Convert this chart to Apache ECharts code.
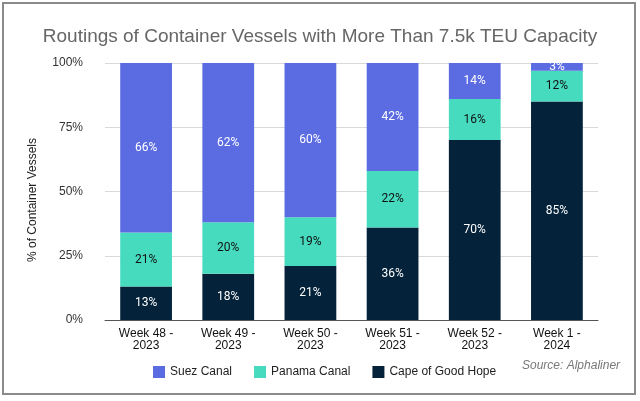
<!DOCTYPE html>
<html><head><meta charset="utf-8">
<script src="https://cdn.jsdelivr.net/npm/echarts@6/dist/echarts.min.js"></script>
<style>html,body{margin:0;padding:0;background:#fff}#c{width:640px;height:401px}</style>
</head><body><div id="c"></div>
<script>
const categories = ['Week 48 -\n2023','Week 49 -\n2023','Week 50 -\n2023','Week 51 -\n2023','Week 52 -\n2023','Week 1 -\n2024'];
const capeOfGoodHope = [13, 18, 21, 36, 70, 85];
const panamaCanal = [21, 20, 19, 22, 16, 12];
const suezCanal = [66, 62, 60, 42, 14, 3];
const yTicks = [0, 25, 50, 75, 100];

const chart = echarts.init(document.getElementById('c'), null, {renderer:'canvas'});
const font = 'Roboto, Arial, sans-serif';
const afont = '"Liberation Sans", Arial, sans-serif';
function lbl(color){return {show:true, position:'inside', color:color, fontSize:12, fontFamily:font, formatter: p => p.value + '%'};}
chart.setOption({
  animation:false,
  graphic:[
    {type:'rect', shape:{x:3,y:3,width:632,height:391}, style:{fill:'none', stroke:'#8a8a8a', lineWidth:2}, silent:true},
    {type:'text', left:522, top:360, style:{text:'Source: Alphaliner', fill:'#777', font:'italic 12px "Liberation Sans", Arial, sans-serif'}},
    {type:'text', x:33, y:200, rotation:Math.PI/2, style:{text:'% of Container Vessels', fill:'#222', align:'center', verticalAlign:'middle', font:'12px "Liberation Sans", Arial, sans-serif'}}
  ],
  title:{text:'Routings of Container Vessels with More Than 7.5k TEU Capacity', left:'center', top:22,
    textStyle:{color:'#666', fontSize:19, fontWeight:'normal', fontFamily:afont}},
  legend:{left:148, top:361, itemWidth:12, itemHeight:12, itemGap:22, icon:'rect',
    textStyle:{color:'#222', fontSize:12, fontFamily:afont},
    data:['Suez Canal','Panama Canal','Cape of Good Hope']},
  grid:{left:105, right:42, top:63, bottom:81},
  xAxis:{type:'category', data:categories,
    axisLine:{lineStyle:{color:'#555'}}, axisTick:{show:false},
    axisLabel:{color:'#111', fontSize:12, fontFamily:afont, lineHeight:12, margin:8, interval:0}},
  yAxis:{type:'value', min:0, max:100, interval:25,
    axisLabel:{color:'#333', fontSize:12, fontFamily:afont, formatter: v => v + '%', margin:22},
    splitLine:{lineStyle:{color:'#d9d9d9'}}},
  series:[
    {name:'Cape of Good Hope', type:'bar', stack:'a', data:capeOfGoodHope, barWidth:'63%', itemStyle:{color:'#04233a'}, label:lbl('#fff')},
    {name:'Panama Canal', type:'bar', stack:'a', data:panamaCanal, itemStyle:{color:'#46dbbe'}, label:lbl('#111')},
    {name:'Suez Canal', type:'bar', stack:'a', data:suezCanal, itemStyle:{color:'#5b6ce2'}, label:lbl('#fff')}
  ]
});
</script></body></html>
